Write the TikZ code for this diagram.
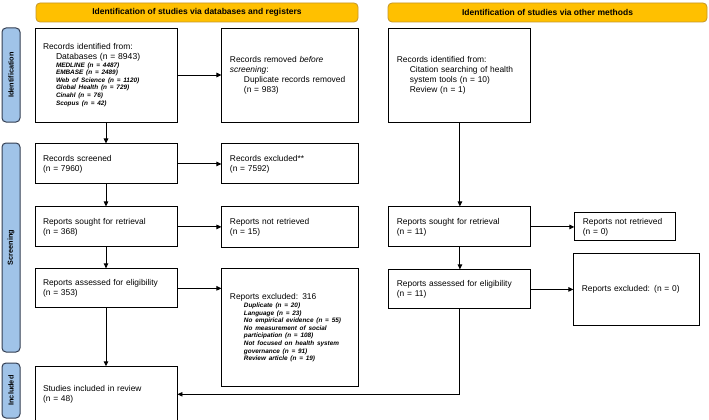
\documentclass[tikz,border=0pt]{standalone}
\usepackage{fontspec}
\setmainfont{Liberation Sans}
\usetikzlibrary{positioning, arrows.meta}
\definecolor{bannerfill}{RGB}{255,192,0}
\definecolor{bannerline}{RGB}{196,150,40}
\definecolor{phasefill}{RGB}{160,195,232}
\definecolor{phaseline}{RGB}{52,62,82}
\newcommand{\dblist}[2][13pt]{\par{\fontsize{6.4}{7.6}\selectfont\bfseries\itshape\leftskip=#1\relax #2\par}}

\begin{document}
\begin{tikzpicture}[
  x=1pt, y=-1pt,
  font=\fontsize{8.4}{10}\selectfont,
  flowbox/.style={draw, line width=0.95pt, align=left, inner xsep=8pt, inner ysep=3pt},
  banner/.style={draw=bannerline, fill=bannerfill, rounded corners=4pt, line width=0.8pt,
                 minimum height=19pt, font=\fontsize{8.5}{10}\selectfont\bfseries},
  phase/.style={draw=phaseline, fill=phasefill, rounded corners=4pt, line width=1pt,
                minimum height=18pt, rotate=90, font=\fontsize{7.3}{9}\selectfont\bfseries},
  flow/.style={-{Triangle[length=5pt, width=4.5pt]}, line width=0.95pt},
  node distance=21pt and 44pt
]
\useasboundingbox (0,0) rectangle (709,420);
\node[banner, minimum width=322pt] (dbhead) at (197,12.5)
  {Identification of studies via databases and registers};
\node[banner, minimum width=319pt] (othhead) at (547.5,12.5)
  {Identification of studies via other methods};
\node[phase, minimum width=94pt] (identph) at (11,75) {Identification};
\node[phase, minimum width=209pt] (screenph) at (11,247.5) {Screening};
\node[phase, minimum width=55pt] (inclph) at (11,390.5) {Included};
\node[flowbox, text width=126pt, minimum height=94pt] (recid) at (106,75)
  {Records identified from:\par
   {\fontsize{8.6}{10}\selectfont\leftskip=13pt Databases (n = 8943)\par}
   \dblist{MEDLINE (n = 4487)\\EMBASE (n = 2489)\\Web of Science (n = 1120)\\
           Global Health (n = 729)\\Cinahl (n = 76)\\Scopus (n = 42)}};
\node[flowbox, text width=121pt, minimum height=94pt, right=of recid] (remove)
  {Records removed \textit{before}\\\textit{screening}:\par
   {\leftskip=14pt Duplicate records removed\\(n = 983)\par}};
\node[flowbox, text width=126pt, minimum height=94pt, right=29pt of remove] (othrec)
  {Records identified from:\par
   {\leftskip=13pt Citation searching of health\\system tools (n = 10)\\Review (n = 1)\par}};
\node[flowbox, text width=126pt, minimum height=40pt, below=of recid] (screened)
  {Records screened\\(n = 7960)};
\node[flowbox, text width=121pt, minimum height=40pt, right=of screened] (excluded)
  {Records excluded**\\(n = 7592)};
\node[flowbox, text width=126pt, minimum height=40pt, below=22pt of screened] (sought)
  {Reports sought for retrieval\\(n = 368)};
\node[flowbox, text width=121pt, minimum height=41pt, right=of sought] (notret)
  {Reports not retrieved\\(n = 15)};
\node[flowbox, text width=126pt, minimum height=39pt, below=of sought] (assessed)
  {Reports assessed for eligibility\\(n = 353)};
\node[flowbox, text width=121pt, minimum height=118pt, anchor=north west]
  (rexcl) at ([xshift=44pt]assessed.north east)
  {Reports excluded: 316
   \dblist[14pt]{Duplicate (n = 20)\\Language (n = 23)\\No empirical evidence (n = 55)\\
           No measurement of social\\participation (n = 108)\\Not focused on health system\\
           governance (n = 91)\\Review article (n = 19)}};
\node[flowbox, text width=126pt, minimum height=55pt, below=58pt of assessed] (studies)
  {Studies included in review\\(n = 48)};
\node[flowbox, text width=126pt, minimum height=40pt, below=84pt of othrec] (osought)
  {Reports sought for retrieval\\(n = 11)};
\node[flowbox, text width=85pt, minimum height=28pt, right=43pt of osought] (onotret)
  {Reports not retrieved\\(n = 0)};
\node[flowbox, text width=126pt, minimum height=39pt, below=22pt of osought] (oassessed)
  {Reports assessed for eligibility\\(n = 11)};
\node[flowbox, text width=110pt, minimum height=72pt, right=42pt of oassessed] (oexcl)
  {Reports excluded: (n = 0)};
\draw[flow] (recid) -- (remove);
\draw[flow] (recid) -- (screened);
\draw[flow] (screened) -- (excluded);
\draw[flow] (screened) -- (sought);
\draw[flow] (sought) -- (notret);
\draw[flow] (sought) -- (assessed);
\draw[flow] (assessed) -- (assessed -| rexcl.west);
\draw[flow] (assessed) -- (studies);
\draw[flow] (othrec) -- (osought);
\draw[flow] (osought) -- (onotret);
\draw[flow] (osought) -- (oassessed);
\draw[flow] (oassessed) -- (oexcl);
\draw[flow] (oassessed) |- (studies);
\end{tikzpicture}
\end{document}
